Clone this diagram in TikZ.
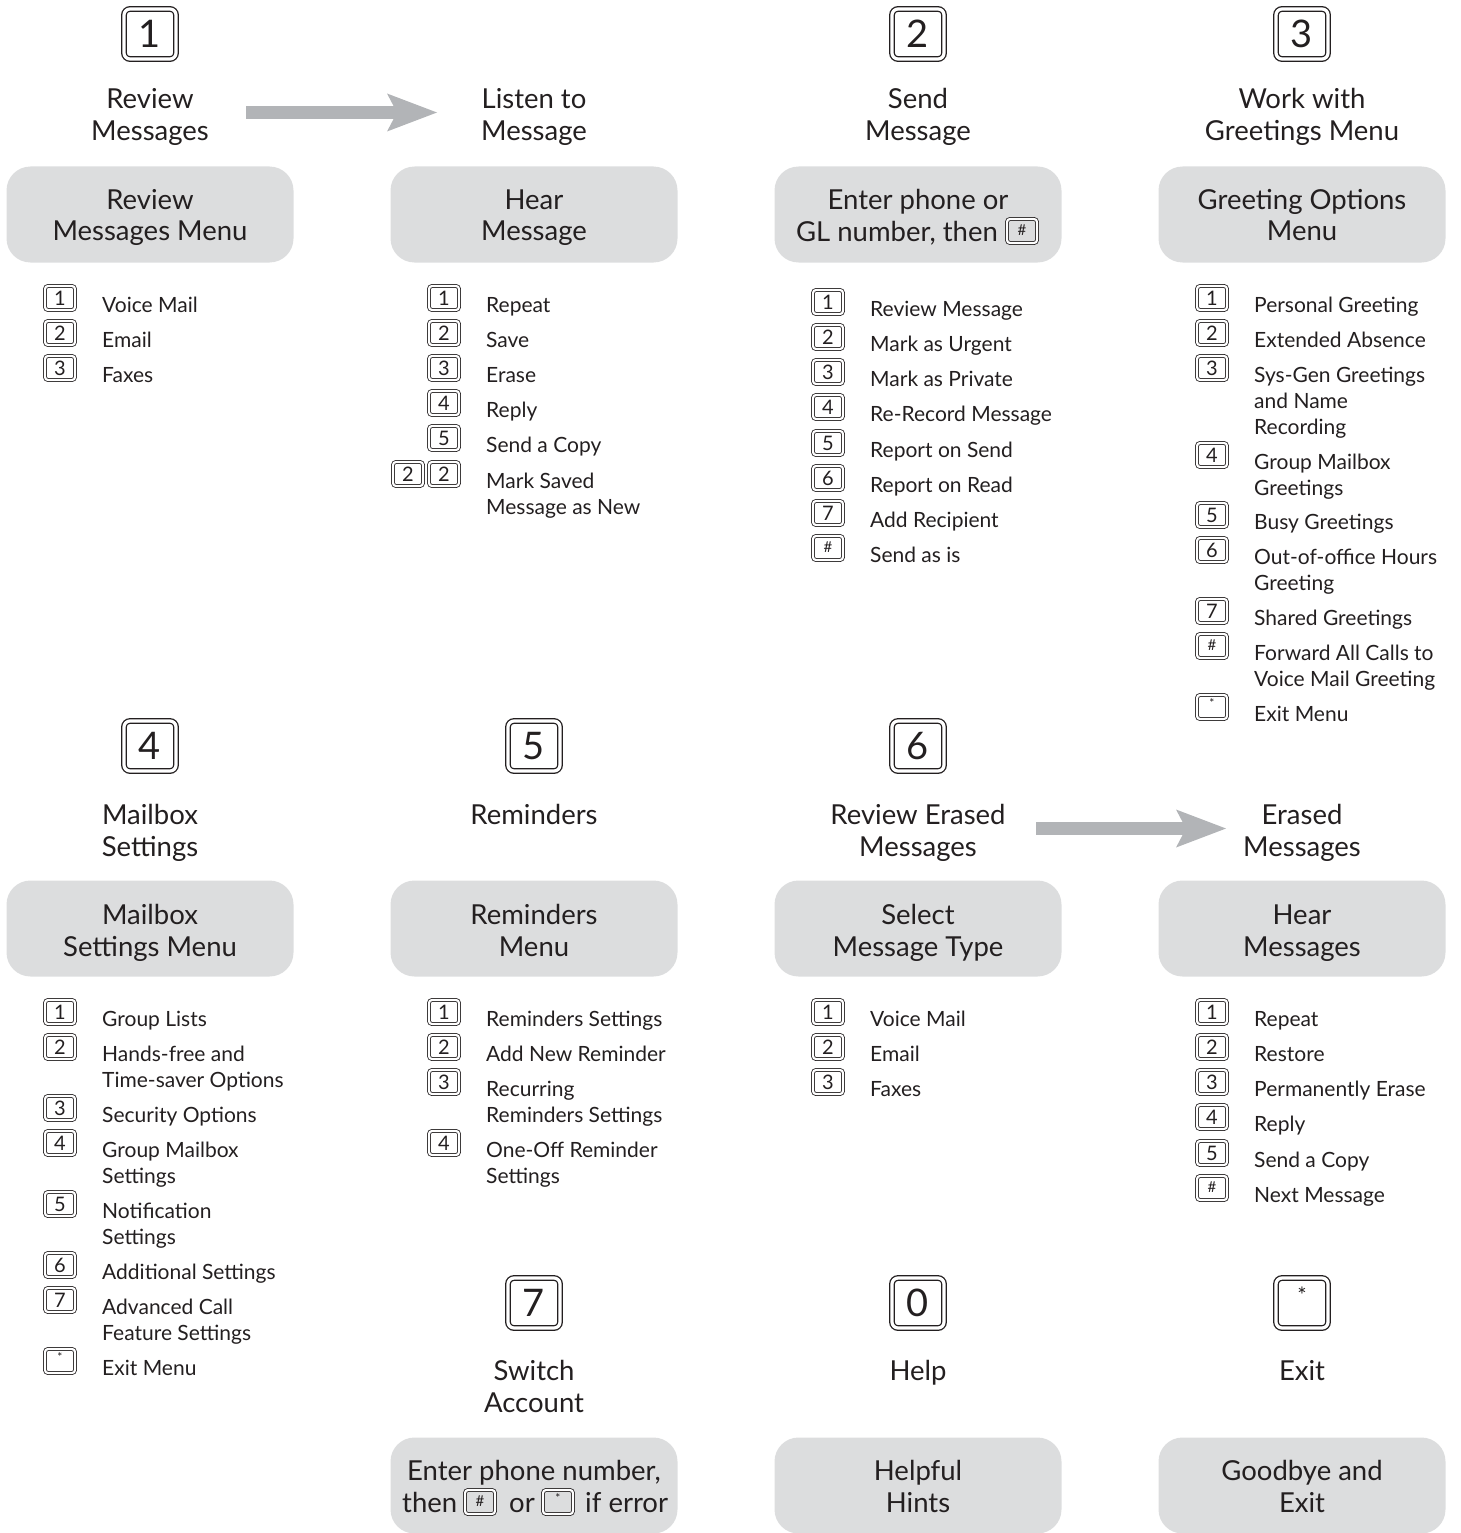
\documentclass[tikz,border=0pt]{standalone}
\usepackage{fontspec}
\setmainfont{Lato}
\usetikzlibrary{arrows.meta}
\definecolor{ink}{HTML}{231F20}
\definecolor{boxgray}{HTML}{DCDDDE}
\definecolor{arrowgray}{HTML}{B2B4B7}
\tikzset{
 bkey/.style={draw=ink, line width=1.3, double=white, double distance=3.2, rounded corners=6,
   minimum width=52, minimum height=50, inner sep=0, text=ink, font=\fontsize{38}{38}\selectfont},
 skey/.style={draw=ink, line width=0.8, double=white, double distance=2.2, rounded corners=3,
   minimum width=30, minimum height=24, inner sep=0, text=ink, font=\fontsize{20}{20}\selectfont},
 ttl/.style={font=\fontsize{27.5}{32}\selectfont, text=ink, inner sep=0, anchor=base},
 itemtxt/.style={font=\fontsize{21}{26}\selectfont, text=ink, anchor=base west, inner sep=0},
 gbox/.style={fill=boxgray, rounded corners=24, minimum width=287, minimum height=96, inner sep=0},
 boxtxt/.style={font=\fontsize{27.5}{32}\selectfont, text=ink, inner sep=0, anchor=base west},
 bigarrow/.style={draw=arrowgray, line width=13, -{Stealth[length=50pt, width=38pt, inset=10pt, line width=0pt]}},
}
\newcommand\khash{\raisebox{1pt}{\fontsize{15}{15}\selectfont\#}}
\newcommand\kstar{\smash{\raisebox{0pt}{\fontsize{12}{12}\selectfont *}}}
\newcommand\TT[1]{\begin{tabular}[t]{@{}c@{}}#1\end{tabular}}
\newcommand\MItem[5]{%
 \node[skey] (#1k) at ({#2-90},{#3-6}) {#4};
 \node[itemtxt] (#1t) at ({#2-48},{#3+8}) {\begin{tabular}[t]{@{}l@{}}#5\end{tabular}};
}
\begin{document}
\begin{tikzpicture}[x=1pt,y=-1pt]
\useasboundingbox (0,0) rectangle (1460,1533);
% ---------- Row 1 ----------
\node[bkey] (k1) at (150,34) {1};
\node[bkey] (k2) at (918,34) {2};
\node[bkey] (k3) at (1302,34) {3};
\node[ttl] (t1) at (150,109) {\TT{Review\\Messages}};
\node[ttl] (t1b) at (534,109) {\TT{Listen to\\Message}};
\node[ttl] (t2) at (918,109) {\TT{Send\\Message}};
\node[ttl] (t3) at (1302,109) {\TT{Work with\\Greetings Menu}};
\coordinate (a1s) at (246,112.5);
\coordinate (a1e) at (437,112.5);
\draw[bigarrow] (a1s) -- (a1e);
\node[gbox] (b1) at (150,214.5) {};
\node[gbox] (b1b) at (534,214.5) {};
\node[gbox] (b2) at (918,214.5) {};
\node[gbox] (b3) at (1302,214.5) {};
\node[ttl] (b1t) at (150,209) {\TT{Review\\Messages Menu}};
\node[ttl] (b1bt) at (534,209) {\TT{Hear\\Message}};
\node[ttl] (b3t) at (1302,209) {\TT{Greeting Options\\Menu}};
\node[ttl] (b2l1) at (918,209) {Enter phone or};
\node[boxtxt, anchor=base east] (b2l2) at (998,241) {GL number, then};
\node[skey] (b2k) at (1022,231) {\khash};
% col 1 items
\MItem{ra}{150}{304}{1}{Voice Mail}
\MItem{rb}{150}{339}{2}{Email}
\MItem{rc}{150}{374}{3}{Faxes}
% col 2 items
\MItem{la}{534}{304}{1}{Repeat}
\MItem{lb}{534}{339}{2}{Save}
\MItem{lc}{534}{374}{3}{Erase}
\MItem{ld}{534}{409}{4}{Reply}
\MItem{le}{534}{444}{5}{Send a Copy}
\MItem{lf}{534}{480}{2}{Mark Saved\\Message as New}
\node[skey] (lfk2) at (408,474) {2};
% col 3 items
\MItem{sa}{918}{308}{1}{Review Message}
\MItem{sb}{918}{343}{2}{Mark as Urgent}
\MItem{sc}{918}{378}{3}{Mark as Private}
\MItem{sd}{918}{413}{4}{Re-Record Message}
\MItem{se}{918}{449}{5}{Report on Send}
\MItem{sf}{918}{484}{6}{Report on Read}
\MItem{sg}{918}{519}{7}{Add Recipient}
\MItem{sh}{918}{554}{\khash}{Send as is}
% col 4 items
\MItem{ga}{1302}{304}{1}{Personal Greeting}
\MItem{gb}{1302}{339}{2}{Extended Absence}
\MItem{gc}{1302}{374}{3}{Sys-Gen Greetings\\and Name\\Recording}
\MItem{gd}{1302}{461}{4}{Group Mailbox\\Greetings}
\MItem{ge}{1302}{521}{5}{Busy Greetings}
\MItem{gf}{1302}{556}{6}{Out-of-office Hours\\Greeting}
\MItem{gg}{1302}{617}{7}{Shared Greetings}
\MItem{gh}{1302}{652}{\khash}{Forward All Calls to\\Voice Mail Greeting}
\MItem{gi}{1302}{713}{\kstar}{Exit Menu}
% ---------- Row 2 ----------
\node[bkey] (k4) at (150,746) {4};
\node[bkey] (k5) at (534,746) {5};
\node[bkey] (k6) at (918,746) {6};
\node[ttl] (t4) at (150,824) {\TT{Mailbox\\Settings}};
\node[ttl] (t5) at (534,824) {Reminders};
\node[ttl] (t6) at (918,824) {\TT{Review Erased\\Messages}};
\node[ttl] (t6b) at (1302,824) {\TT{Erased\\Messages}};
\coordinate (a2s) at (1036,828.5);
\coordinate (a2e) at (1226,828.5);
\draw[bigarrow] (a2s) -- (a2e);
\node[gbox] (b4) at (150,928.5) {};
\node[gbox] (b5) at (534,928.5) {};
\node[gbox] (b6) at (918,928.5) {};
\node[gbox] (b6b) at (1302,928.5) {};
\node[ttl] (b4t) at (150,924) {\TT{Mailbox\\Settings Menu}};
\node[ttl] (b5t) at (534,924) {\TT{Reminders\\Menu}};
\node[ttl] (b6t) at (918,924) {\TT{Select\\Message Type}};
\node[ttl] (b6bt) at (1302,924) {\TT{Hear\\Messages}};
% col 1
\MItem{ma}{150}{1018}{1}{Group Lists}
\MItem{mb}{150}{1053}{2}{Hands-free and\\Time-saver Options}
\MItem{mc}{150}{1114}{3}{Security Options}
\MItem{md}{150}{1149}{4}{Group Mailbox\\Settings}
\MItem{me}{150}{1210}{5}{Notification\\Settings}
\MItem{mf}{150}{1271}{6}{Additional Settings}
\MItem{mg}{150}{1306}{7}{Advanced Call\\Feature Settings}
\MItem{mh}{150}{1367}{\kstar}{Exit Menu}
% col 2
\MItem{na}{534}{1018}{1}{Reminders Settings}
\MItem{nb}{534}{1053}{2}{Add New Reminder}
\MItem{nc}{534}{1088}{3}{Recurring\\Reminders Settings}
\MItem{nd}{534}{1149}{4}{One-Off Reminder\\Settings}
% col 3
\MItem{ea}{918}{1018}{1}{Voice Mail}
\MItem{eb}{918}{1053}{2}{Email}
\MItem{ec}{918}{1088}{3}{Faxes}
% col 4
\MItem{ha}{1302}{1018}{1}{Repeat}
\MItem{hb}{1302}{1053}{2}{Restore}
\MItem{hc}{1302}{1088}{3}{Permanently Erase}
\MItem{hd}{1302}{1123}{4}{Reply}
\MItem{he}{1302}{1159}{5}{Send a Copy}
\MItem{hf}{1302}{1194}{\khash}{Next Message}
% ---------- Row 3 ----------
\node[bkey] (k7) at (534,1303) {7};
\node[bkey] (k0) at (918,1303) {0};
\node[bkey] (ks) at (1302,1303) {\smash{\raisebox{0pt}{\fontsize{22}{22}\selectfont *}}};
\node[ttl] (t7) at (534,1380) {\TT{Switch\\Account}};
\node[ttl] (t0) at (918,1380) {Help};
\node[ttl] (ts) at (1302,1380) {Exit};
\node[gbox] (b7) at (534,1485.5) {};
\node[gbox] (b0) at (918,1485.5) {};
\node[gbox] (bs) at (1302,1485.5) {};
\node[ttl] (b0t) at (918,1480) {\TT{Helpful\\Hints}};
\node[ttl] (bst) at (1302,1480) {\TT{Goodbye and\\Exit}};
\node[ttl] (b7l1) at (534,1480) {Enter phone number,};
\node[boxtxt] (b7a) at (402,1512) {then};
\node[skey] (b7k1) at (480,1502) {\khash};
\node[boxtxt] (b7b) at (509,1512) {or};
\node[skey] (b7k2) at (558,1502) {\kstar};
\node[boxtxt] (b7c) at (585,1512) {if error};
\end{tikzpicture}
\end{document}
